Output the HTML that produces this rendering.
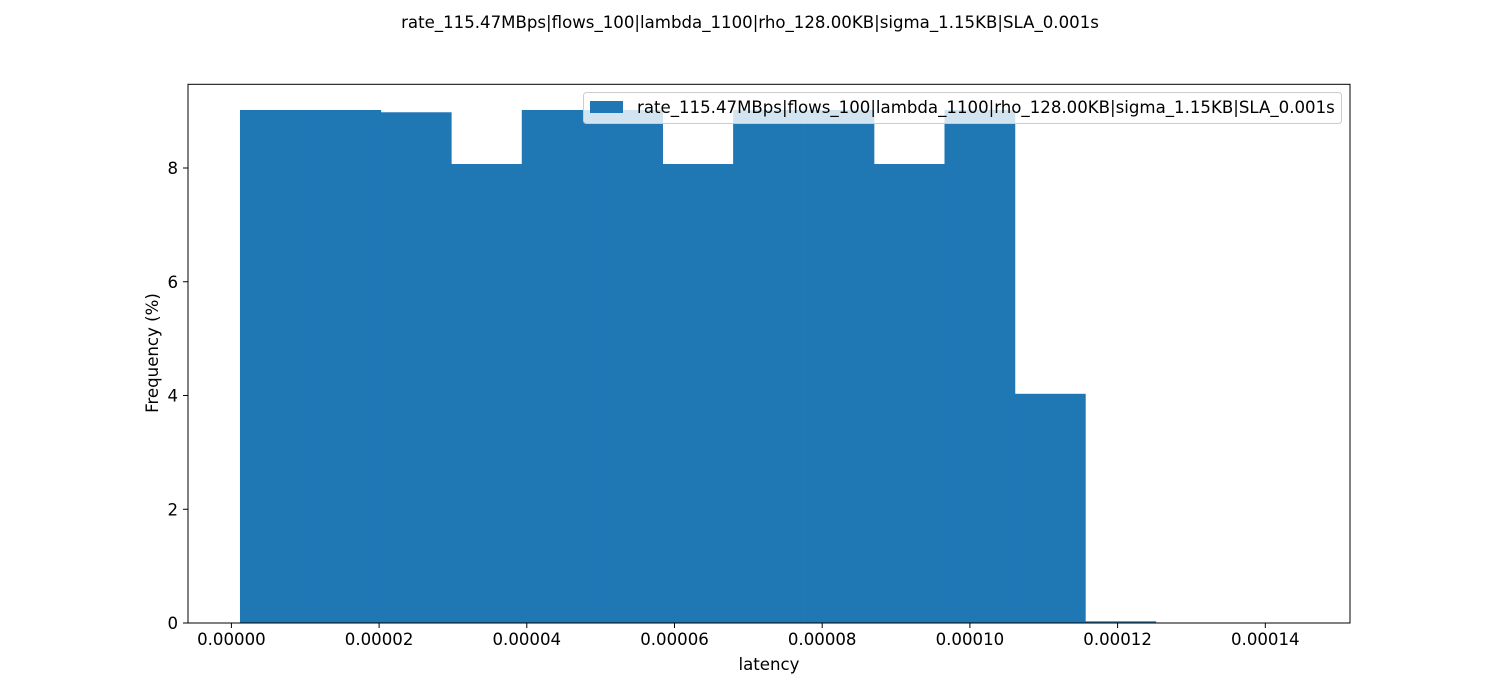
<!DOCTYPE html>
<html><head><meta charset="utf-8"><style>
body{margin:0;background:#fff}
svg{display:block;font-family:"DejaVu Sans","Liberation Sans",sans-serif}
</style></head><body>
<svg id="chart" width="1500" height="700">
<text x="750" y="28" text-anchor="middle" font-size="16.6">rate_115.47MBps|flows_100|lambda_1100|rho_128.00KB|sigma_1.15KB|SLA_0.001s</text>
<g id="bars"></g>
<g id="xticks"></g>
<g id="yticks"></g>
<rect x="188" y="84.3" width="1162" height="538.7" fill="none" stroke="#000" stroke-width="1"/>
<text x="769" y="670" text-anchor="middle" font-size="16.6">latency</text>
<text transform="translate(158,353) rotate(-90)" text-anchor="middle" font-size="16.6">Frequency (%)</text>
<g>
<rect x="583.5" y="92.5" width="758" height="31" rx="3" fill="#fff" fill-opacity="0.8" stroke="#ccc"/>
<rect x="590" y="101" width="33" height="12" fill="#1f77b4"/>
<text x="637" y="113" font-size="16.6">rate_115.47MBps|flows_100|lambda_1100|rho_128.00KB|sigma_1.15KB|SLA_0.001s</text>
</g>
</svg>
<script>
const binStart = 1.16e-6;
const binWidth = 9.54e-6;
const values = [9.02, 9.02, 8.98, 8.07, 9.02, 9.02, 8.07, 9.02, 9.02, 8.07, 9.02, 4.03, 0.03];
const xTickValues = [0, 0.00002, 0.00004, 0.00006, 0.00008, 0.00010, 0.00012, 0.00014];
const xTickLabels = ["0.00000","0.00002","0.00004","0.00006","0.00008","0.00010","0.00012","0.00014"];
const yTickValues = [0, 2, 4, 6, 8];

const NS = "http://www.w3.org/2000/svg";
const x = v => 231.4 + v * 7.385e6;
const y = v => 623 - v * 56.875;
function mk(tag, attrs, parent){const e=document.createElementNS(NS,tag);for(const k in attrs)e.setAttribute(k,attrs[k]);parent.appendChild(e);return e;}
const bars=document.getElementById('bars');
values.forEach((v,i)=>{
  const x0=x(binStart+i*binWidth), x1=x(binStart+(i+1)*binWidth);
  const r=mk('rect',{x:x0,y:y(v),width:x1-x0+0.3,height:y(0)-y(v),fill:'#1f77b4'},bars);
  
  
});
const xt=document.getElementById('xticks');
xTickValues.forEach((v,i)=>{
  const l=mk('line',{x1:x(v),x2:x(v),y1:623,y2:628,stroke:'#000'},xt);
  
  
  const t=mk('text',{x:x(v),y:645,'text-anchor':'middle','font-size':16.6},xt);
  t.textContent=xTickLabels[i];
  
  
});
const yt=document.getElementById('yticks');
yTickValues.forEach(v=>{
  const l=mk('line',{x1:183,x2:188,y1:y(v),y2:y(v),stroke:'#000'},yt);
  
  
  const t=mk('text',{x:178,y:y(v)+6,'text-anchor':'end','font-size':16.6},yt);
  t.textContent=String(v);
  
  
});
</script>
</body></html>
